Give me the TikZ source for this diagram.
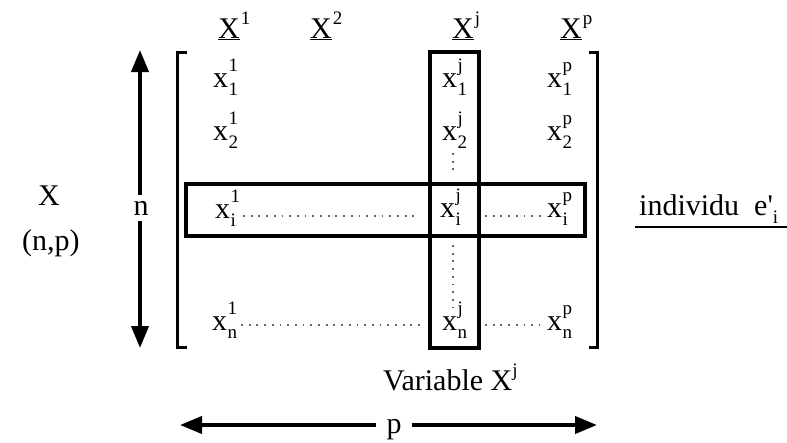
\documentclass[tikz,border=0pt]{standalone}
\usepackage{fontspec}
\setmainfont{Liberation Serif}
\usepackage{textcomp}
\usetikzlibrary{arrows.meta}
\newcommand\scr{\fontsize{19}{21}\selectfont}
\newcommand\ent[2]{x\kern0.5pt\ooalign{\raisebox{-8pt}{\scr#1}\cr\raisebox{16pt}{\scr#2}\cr}}
\newcommand\hdr[1]{\underline{X}\kern1pt\raisebox{14pt}{\scr#1}}
\begin{document}
\begin{tikzpicture}[x=1pt,y=-1pt,
  every node/.style={inner sep=0pt, font=\fontsize{30}{36}\selectfont, text=black},
  cell/.style={anchor=base west},
  boxline/.style={line width=3.2pt},
  brk/.style={line width=3pt},
  arr/.style={line width=4pt, -{Triangle[length=22pt,width=17pt]}},
  dots/.style={line width=1.8pt, dash pattern=on 1.8pt off 5.9pt, black!60},
  uline/.style={line width=2pt}]
\useasboundingbox (0,0) rectangle (787,442);
% headers
\node[cell] (h1) at (218,38) {\hdr{1}};
\node[cell] (h2) at (310,38) {\hdr{2}};
\node[cell] (hj) at (452,38) {\hdr{j}};
\node[cell] (hp) at (560,38) {\hdr{p}};
% entries
\node[cell] (a11) at (213,87) {\ent{1}{1}};
\node[cell] (a21) at (213,140) {\ent{2}{1}};
\node[cell] (ai1) at (215,218) {\ent{i}{1}};
\node[cell] (an1) at (212,330) {\ent{n}{1}};
\node[cell] (a1j) at (442,87) {\ent{1}{j}};
\node[cell] (a2j) at (442,140) {\ent{2}{j}};
\node[cell] (aij) at (440,217) {\ent{i}{j}};
\node[cell] (anj) at (442,330) {\ent{n}{j}};
\node[cell] (a1p) at (547,87) {\ent{1}{p}};
\node[cell] (a2p) at (547,140) {\ent{2}{p}};
\node[cell] (aip) at (547,217) {\ent{i}{p}};
\node[cell] (anp) at (547,330) {\ent{n}{p}};
% dots
\draw[dots] (243,216) -- (420,216);
\draw[dots] (485,216) -- (541,216);
\draw[dots] (241,325) -- (420,325);
\draw[dots] (485,325) -- (539,325);
\draw[dots] (453,153) -- (453,175);
\draw[dots] (453,245) -- (453,309);
% brackets
\draw[brk] (187,52) -- (177,52) -- (177,347) -- (187,347);
\draw[brk] (589,52) -- (597,52) -- (597,347) -- (589,347);
% boxes
\draw[boxline] (186,184) rectangle (585,236);
\draw[boxline] (430,52) rectangle (479,348);
% left labels
\node[cell] (X) at (38,205) {X};
\node[cell] (np) at (22,250) {(n,p)};
\node[anchor=base, inner ysep=6pt] (n) at (141,215) {n};
\coordinate (nt) at (140,50);
\coordinate (nb) at (140,348);
\draw[arr] (n.north -| nt) -- (nt);
\draw[arr] (n.south -| nb) -- (nb);
% bottom
\node[cell] (var) at (383,390) {Variable X\raisebox{14pt}{\scr j}};
\node[anchor=base, inner xsep=10pt] (p) at (394,433) {p};
\coordinate (pl) at (180,425);
\coordinate (pr) at (597,425);
\draw[arr] (pl -| p.west) -- (pl);
\draw[arr] (pr -| p.east) -- (pr);
% individu
\node[cell] (ind) at (639,215) {individu\ \ e\textquotesingle\raisebox{-8pt}{\scr i}};
\draw[uline] ([xshift=-4pt,yshift=-12pt]ind.base west) -- (787,227);
\end{tikzpicture}
\end{document}
